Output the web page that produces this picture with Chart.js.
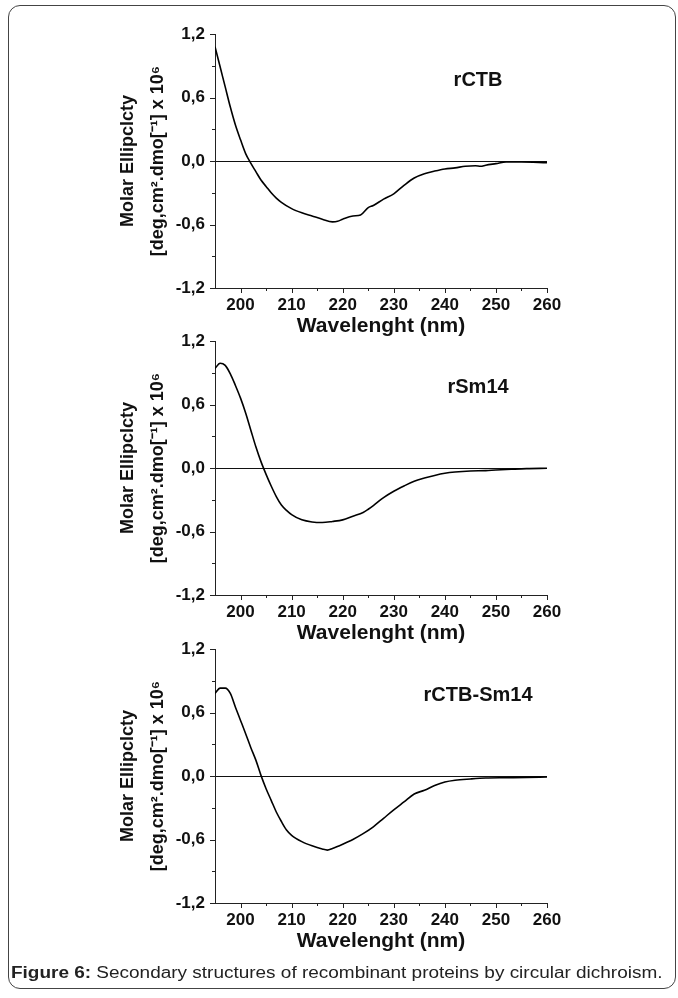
<!DOCTYPE html>
<html>
<head>
<meta charset="utf-8">
<title>Figure 6 - circular dichroism</title>
<script src="https://cdn.jsdelivr.net/npm/chart.js@4.4.1/dist/chart.umd.min.js"></script>
<style>
  body { margin: 0; background: #fff; width: 678px; height: 998px; position: relative; overflow: hidden; }
  .frame { position: absolute; left: 8px; top: 5px; width: 666px; height: 982px; border: 1.5px solid #444; border-radius: 12px; }
  canvas { position: absolute; left: 0; }
  .caption { position: absolute; left: 11px; top: 964px; font: 16px "Liberation Sans", Arial, sans-serif; color: #222; white-space: nowrap; transform-origin: left top; }
</style>
</head>
<body>
<div class="frame"></div>
<canvas id="cd1" width="678" height="339" style="top:0px"></canvas>
<canvas id="cd2" width="678" height="339" style="top:307px"></canvas>
<canvas id="cd3" width="678" height="339" style="top:615px"></canvas>
<div class="caption" id="caption"><b>Figure 6:</b> Secondary structures of recombinant proteins by circular dichroism.</div>
<script>
// CD spectra (molar ellipticity x 10^6)

const rctbNm = [195, 196, 197, 198, 199, 200, 201, 202, 203, 204, 205, 206, 207, 208, 210, 212, 214, 216, 218, 219, 220, 222, 223.5, 225, 226, 228, 230, 232, 234, 236, 238, 240, 242, 244, 246, 247, 248, 250, 252, 255, 260];
const rctbVal = [1.08, 0.89, 0.70, 0.51, 0.34, 0.20, 0.07, -0.02, -0.10, -0.18, -0.24, -0.30, -0.35, -0.39, -0.45, -0.49, -0.52, -0.55, -0.575, -0.57, -0.55, -0.52, -0.51, -0.44, -0.42, -0.36, -0.31, -0.23, -0.16, -0.12, -0.095, -0.075, -0.065, -0.05, -0.045, -0.05, -0.04, -0.025, -0.01, -0.01, -0.015];

const rsm14Nm = [195, 196, 197, 198, 199, 200, 201, 202, 203, 204, 205, 206, 207, 208, 209, 210, 212, 214, 216, 218, 220, 222, 224, 225, 226, 228, 230, 232, 234, 236, 238, 240, 242, 245, 248, 250, 253, 256, 260];
const rsm14Val = [0.94, 0.99, 0.97, 0.89, 0.78, 0.66, 0.52, 0.36, 0.20, 0.06, -0.06, -0.17, -0.27, -0.35, -0.40, -0.44, -0.49, -0.51, -0.515, -0.505, -0.49, -0.455, -0.42, -0.39, -0.355, -0.28, -0.22, -0.17, -0.125, -0.095, -0.07, -0.05, -0.038, -0.028, -0.025, -0.019, -0.012, -0.006, -0.003];

const fusionNm = [195, 196, 197, 198, 199, 200, 201, 202, 203, 204, 205, 206, 207, 208, 209, 210, 212, 214, 216, 217, 218, 220, 222, 224, 226, 228, 230, 232, 234, 236, 238, 240, 242, 245, 248, 252, 256, 260];
const fusionVal = [0.78, 0.83, 0.83, 0.78, 0.65, 0.525, 0.40, 0.27, 0.15, 0.006, -0.12, -0.23, -0.34, -0.43, -0.51, -0.56, -0.62, -0.66, -0.69, -0.70, -0.685, -0.645, -0.60, -0.545, -0.48, -0.40, -0.32, -0.245, -0.17, -0.135, -0.09, -0.057, -0.04, -0.028, -0.019, -0.016, -0.013, -0.009];

const sampleNames = ["rCTB", "rSm14", "rCTB-Sm14"];
const xLabel = "Wavelenght (nm)";
const yLabel = ["Molar Ellipclcty", "[deg,cm\u00B2.dmo[\u207B\u00B9] x 10\u2076"];

const FONT = '"Liberation Sans", Arial, sans-serif';

// small and big tick marks plus the sample name inside the plot
const tickMarks = {
  id: "tickMarks",
  afterDraw(chart) {
    const { ctx, chartArea, scales } = chart;
    const x = scales.x;
    const y = scales.y;
    ctx.save();
    ctx.strokeStyle = "#222";
    ctx.lineWidth = 1;
    ctx.beginPath();
    x.ticks.forEach((t) => {
      if (t.value <= 195) return;
      const px = Math.round(x.getPixelForValue(t.value)) + 0.5;
      const len = t.value % 10 === 0 ? 5 : 3;
      ctx.moveTo(px, chartArea.bottom);
      ctx.lineTo(px, chartArea.bottom + len);
    });
    y.ticks.forEach((t) => {
      const py = Math.round(y.getPixelForValue(t.value)) + 0.5;
      const major = Math.abs(Math.round(t.value * 10)) % 6 === 0;
      const len = major ? 5 : 3;
      ctx.moveTo(chartArea.left, py);
      ctx.lineTo(chartArea.left - len, py);
    });
    ctx.stroke();

    ctx.fillStyle = "#111";
    ctx.font = "bold 20px " + FONT;
    ctx.textAlign = "center";
    ctx.textBaseline = "middle";
    ctx.fillText(chart.options.plugins.tickMarks.name, x.getPixelForValue(246.5), y.getPixelForValue(0.765));
    ctx.restore();
  },
};

function makeChart(id, name, nm, values) {
  const canvas = document.getElementById(id).getContext("2d");
  new Chart(canvas, {
    type: "line",
    data: {
      datasets: [
        {
          label: name,
          data: nm.map((w, i) => ({ x: w, y: values[i] })),
          borderColor: "#000",
          borderWidth: 1.6,
          pointRadius: 0,
          cubicInterpolationMode: "monotone",
          fill: false,
        },
      ],
    },
    options: {
      responsive: false,
      animation: false,
      layout: { padding: { left: 110, top: 34, right: 131, bottom: 0 } },
      scales: {
        x: {
          type: "linear",
          min: 195,
          max: 260,
          afterFit: (s) => { s.height = 51; },
          border: { display: true, color: "#222", width: 1 },
          grid: { display: false, drawTicks: false },
          ticks: {
            stepSize: 5,
            autoSkip: false,
            maxRotation: 0,
            padding: 7,
            color: "#111",
            font: { family: FONT, size: 17, weight: "bold" },
            callback: (v) => (v % 10 === 0 && v > 195 ? String(v) : ""),
          },
          title: {
            display: true,
            text: xLabel,
            color: "#111",
            padding: { top: 0, bottom: 0 },
            font: { family: FONT, size: 21, weight: "bold" },
          },
        },
        y: {
          min: -1.2,
          max: 1.2,
          afterFit: (s) => { s.width = 105; },
          border: { display: true, color: "#222", width: 1 },
          grid: {
            drawTicks: false,
            color: (ctx) => (ctx.tick && Math.abs(ctx.tick.value) < 1e-9 ? "#111" : "rgba(0,0,0,0)"),
            lineWidth: 1,
          },
          ticks: {
            stepSize: 0.3,
            autoSkip: false,
            padding: 10,
            color: "#111",
            font: { family: FONT, size: 17, weight: "bold" },
            callback: (v) => {
              const r = Math.round(v * 10) / 10 + 0;
              return Math.abs(Math.round(v * 10)) % 6 === 0 ? r.toFixed(1).replace(".", ",") : "";
            },
          },
          title: {
            display: true,
            text: yLabel,
            color: "#111",
            padding: { top: 3, bottom: 0 },
            font: { family: FONT, size: 18, weight: "bold", lineHeight: 30 / 18 },
          },
        },
      },
      plugins: {
        legend: { display: false },
        tooltip: { enabled: false },
        tickMarks: { name: name },
      },
    },
    plugins: [tickMarks],
  });
}

makeChart("cd1", sampleNames[0], rctbNm, rctbVal);
makeChart("cd2", sampleNames[1], rsm14Nm, rsm14Val);
makeChart("cd3", sampleNames[2], fusionNm, fusionVal);

// stretch the caption to the same width as in the figure
const cap = document.getElementById("caption");
cap.style.transform = "scaleX(" + (652 / cap.offsetWidth) + ")";
</script>
</body>
</html>
